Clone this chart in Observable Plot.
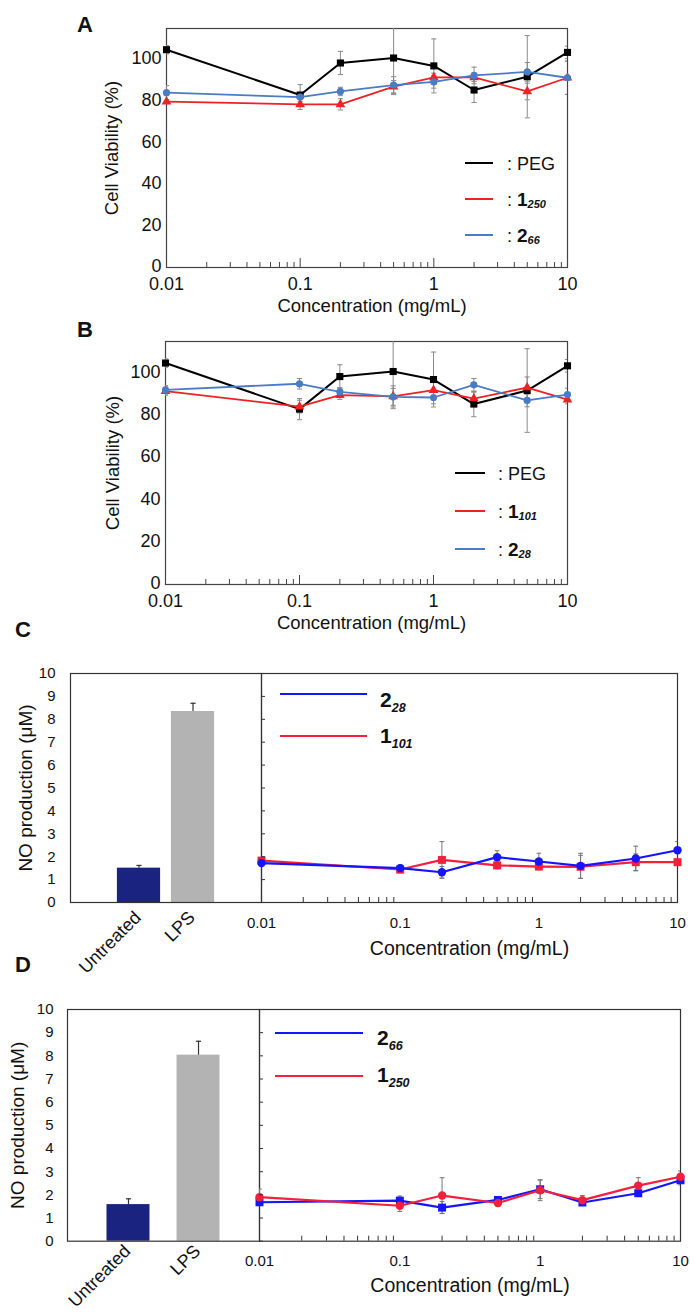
<!DOCTYPE html>
<html>
<head>
<meta charset="utf-8">
<script src="https://cdn.jsdelivr.net/npm/d3@7"></script>
<script src="https://cdn.jsdelivr.net/npm/@observablehq/plot@0.6"></script>
<style>
  html, body { margin: 0; padding: 0; background: #fff; }
  #root { position: relative; width: 690px; height: 1313px; overflow: hidden; background: #fff;
          font-family: Arial, "Liberation Sans", Helvetica, sans-serif; color: #111; }
  .abs { position: absolute; white-space: nowrap; }
</style>
</head>
<body>
<div id="root"></div>
<script>
// ---------------- DATA ----------------
const conc = [0.01, 0.1, 0.2, 0.5, 1, 2, 5, 10];
const xMajor = [0.01, 0.1, 1, 10];
const xMajorLabels = ["0.01", "0.1", "1", "10"];
const xMinor = [0.02, 0.03, 0.04, 0.05, 0.06, 0.07, 0.08, 0.09,
                0.2, 0.3, 0.4, 0.5, 0.6, 0.7, 0.8, 0.9,
                2, 3, 4, 5, 6, 7, 8, 9];
const viabTicks = [0, 20, 40, 60, 80, 100];
const noTicks = [0, 1, 2, 3, 4, 5, 6, 7, 8, 9, 10];
const xTitle = "Concentration (mg/mL)";
const viabTitle = "Cell Viability (%)";
const noTitle = "NO production (\u03BCM)";
const panelLetters = ["A", "B", "C", "D"];

// Panel A / B : cell viability (%)
const pegViab      = [104.8, 83.0, 98.4, 100.8, 97.0, 85.4, 91.8, 103.5];
const pegViabErr   = [2, 5, 5.6, 17.6, 13, 6, 19.8, 3];
const v1_250       = [79.8, 78.5, 78.5, 87.0, 91.5, 91.5, 84.7, 91.3];
const v1_250Err    = [1, 2.5, 2.7, 3, 2, 2, 4, 8];
const v2_66        = [84.1, 82.0, 84.7, 87.8, 89.3, 92.4, 94.1, 91.3];
const v2_66Err     = [3.4, 2, 2, 4, 3, 4, 4.5, 8];
const v1_101       = [91.5, 84.2, 89.6, 89.0, 92.0, 88.0, 93.2, 87.5];
const v1_101Err    = [2, 3, 2, 5, 4, 3, 5, 2];
const v2_28        = [92.1, 95.0, 91.2, 88.8, 88.5, 94.5, 87.1, 89.9];
const v2_28Err     = [2, 2.5, 2, 4, 3, 3, 3, 3];

// Panel C / D : NO production (uM)
const ctrlCats   = ["Untreated", "LPS"];
const ctrlC      = [1.50, 8.34];
const ctrlCErr   = [0.12, 0.36];
const ctrlD      = [1.58, 8.03];
const ctrlDErr   = [0.25, 0.60];
const no2_28     = [1.72, 1.50, 1.32, 1.98, 1.79, 1.60, 1.92, 2.28];
const no2_28Err  = [0.05, 0.15, 0.25, 0.28, 0.36, 0.55, 0.54, 0.38];
const no1_101    = [1.83, 1.44, 1.86, 1.62, 1.57, 1.56, 1.76, 1.76];
const no1_101Err = [0.10, 0.15, 0.80, 0.15, 0.10, 0.50, 0.36, 0.10];
const no2_66     = [1.68, 1.75, 1.45, 1.78, 2.24, 1.67, 2.07, 2.63];
const no2_66Err  = [0.10, 0.20, 0.26, 0.10, 0.40, 0.10, 0.10, 0.20];
const no1_250    = [1.90, 1.53, 1.97, 1.65, 2.20, 1.77, 2.40, 2.78];
const no1_250Err = [0.35, 0.25, 0.77, 0.15, 0.45, 0.20, 0.34, 0.25];

// legend labels: [main, subscript]
const legendAB_A = [["PEG", ""], ["1", "250"], ["2", "66"]];
const legendAB_B = [["PEG", ""], ["1", "101"], ["2", "28"]];
const legendC = [["2", "28"], ["1", "101"]];
const legendD = [["2", "66"], ["1", "250"]];

// ---------------- STYLE / LAYOUT ----------------
const FONT = "Arial, 'Liberation Sans', Helvetica, sans-serif";
const plotStyle = {background: "transparent", overflow: "visible", fontFamily: FONT, color: "#111"};
const BLACK = "#000000", REDv = "#ee2222", BLUEv = "#4a7cc6";
const BLUEn = "#1515ff", REDn = "#f41f3a";
const barColors = ["#1b2380", "#b3b3b3"];
const root = document.getElementById("root");
const cap = {draw(ctx, size) { const w = Math.sqrt(size / Math.PI); ctx.moveTo(-w, 0); ctx.lineTo(w, 0); }};
const fmtX = d => xMajorLabels[xMajor.indexOf(d)];

function mount(svg, top) {
  svg.style.position = "absolute";
  svg.style.left = "0px";
  svg.style.top = top + "px";
  root.appendChild(svg);
}
function addDiv(html, left, top, css) {
  const d = document.createElement("div");
  d.className = "abs";
  d.style.left = left + "px";
  d.style.top = top + "px";
  Object.assign(d.style, css || {});
  d.innerHTML = html;
  root.appendChild(d);
  return d;
}
function lineSwatch(x1, x2, y, color, w) {
  addDiv("", x1, y - w / 2, {width: (x2 - x1) + "px", height: w + "px", background: color});
}
function rows(vals, errs) { return conc.map((c, i) => ({c, v: vals[i], e: errs[i]})); }

function errMarks(d, color, r) {
  return [
    Plot.ruleX(d, {x: "c", y1: v => v.v - v.e, y2: v => v.v + v.e, stroke: color, strokeWidth: 1, clip: true}),
    Plot.dot(d, {x: "c", y: v => v.v + v.e, symbol: cap, r, stroke: color, strokeWidth: 1, fill: "none", clip: true}),
    Plot.dot(d, {x: "c", y: v => v.v - v.e, symbol: cap, r, stroke: color, strokeWidth: 1, fill: "none", clip: true})
  ];
}
function yTitleMark(t, dx, fs) {
  return Plot.text([t], {frameAnchor: "left", textAnchor: "middle", lineAnchor: "middle", rotate: -90, dx, fontSize: fs});
}
function xTitleMark(t, dy, dx, fs) {
  return Plot.text([t], {frameAnchor: "bottom", textAnchor: "middle", lineAnchor: "middle", dy, dx, fontSize: fs});
}

// ---------------- PANELS A & B ----------------
function viability(top, H, mt, mb, ml, mr, series, ylDx) {
  const marks = [Plot.frame({stroke: "#444", strokeWidth: 1.2})];
  series.forEach(s => marks.push(...errMarks(rows(s.v, s.e), "#8a8a8a", 2.6)));
  series.forEach(s => {
    const d = rows(s.v, s.e);
    marks.push(
      Plot.line(d, {x: "c", y: "v", stroke: s.color, strokeWidth: s.w}),
      Plot.dot(d, {x: "c", y: "v", symbol: s.symbol, r: s.r, fill: s.color, stroke: "none"})
    );
  });
  marks.push(
    Plot.axisY(viabTicks, {tickSize: 0, tickPadding: 5, fontSize: 18, dy: -1, label: null}),
    Plot.axisX(xMajor, {tickSize: 0, tickPadding: 10, fontSize: 18, tickFormat: fmtX, label: null}),
    Plot.axisX(xMajor, {tickSize: -9, fill: "none", stroke: "#444", label: null}),
    Plot.axisX(xMinor, {tickSize: -5, fill: "none", stroke: "#444", label: null}),
    xTitleMark(xTitle, 39, 5, 18.5),
    yTitleMark(viabTitle, ylDx, 18.5)
  );
  const svg = Plot.plot({
    width: 690, height: H, marginTop: mt, marginBottom: mb, marginLeft: ml, marginRight: mr,
    style: plotStyle,
    x: {type: "log", domain: [0.01, 10]},
    y: {domain: [0, 115]},
    marks
  });
  mount(svg, top);
}

viability(0, 320, 28, 53, 166, 123, [
  {v: pegViab, e: pegViabErr, color: BLACK, w: 2, symbol: "square", r: 4},
  {v: v1_250, e: v1_250Err, color: REDv, w: 1.8, symbol: "triangle", r: 3.6},
  {v: v2_66, e: v2_66Err, color: BLUEv, w: 1.8, symbol: "circle", r: 3.6}
], -54);
viability(310, 330, 31, 56, 165, 123, [
  {v: pegViab, e: pegViabErr, color: BLACK, w: 2, symbol: "square", r: 4},
  {v: v1_101, e: v1_101Err, color: REDv, w: 1.8, symbol: "triangle", r: 3.6},
  {v: v2_28, e: v2_28Err, color: BLUEv, w: 1.8, symbol: "circle", r: 3.6}
], -52);

// legends A / B
function legendAB(entries, colors, x1, x2, ys, tx) {
  entries.forEach(([main, sub], i) => {
    lineSwatch(x1, x2, ys[i], colors[i], 1.6);
    const html = sub
      ? `: <b style="font-size:19px">${main}</b><b><i style="font-size:11px;position:relative;top:2px">${sub}</i></b>`
      : `: ${main}`;
    addDiv(html, tx, ys[i] - 9.2, {fontSize: "18px", lineHeight: "20px"});
  });
}
legendAB(legendAB_A, [BLACK, REDv, BLUEv], 465, 493, [163, 199, 235], 507);
legendAB(legendAB_B, [BLACK, REDv, BLUEv], 455, 485, [473, 511, 549], 498);

// ---------------- PANELS C & D ----------------
function noPanel(top, H, mt, mb, ml, divX, mr, ctrl, ctrlErr, band, ylDx, ytp, xtp, xtDy, catDy, series) {
  const bars = ctrlCats.map((cat, i) => ({cat, v: ctrl[i], e: ctrlErr[i]}));
  const left = Plot.plot({
    width: 690, height: H, marginTop: mt, marginBottom: mb, marginLeft: ml, marginRight: 690 - divX,
    style: plotStyle,
    x: {type: "band", domain: ctrlCats, paddingInner: band.pi, paddingOuter: band.po, round: false, axis: null},
    y: {domain: [0, 10]},
    color: {domain: ctrlCats, range: barColors},
    marks: [
      Plot.barY(bars, {x: "cat", y: "v", fill: "cat"}),
      Plot.ruleX(bars, {x: "cat", y1: "v", y2: d => d.v + d.e, stroke: "#333", strokeWidth: 1.2}),
      Plot.dot(bars, {x: "cat", y: d => d.v + d.e, symbol: cap, r: 2.6, stroke: "#333", strokeWidth: 1.2, fill: "none"}),
      Plot.frame({stroke: "#333", strokeWidth: 1.2}),
      Plot.axisY(noTicks, {tickSize: 0, tickPadding: ytp, fontSize: 15, label: null}),
      Plot.text(ctrlCats, {x: d => d, frameAnchor: "bottom", rotate: -45, textAnchor: "end", lineAnchor: "middle",
                           dx: -1, dy: catDy, fontSize: 18}),
      yTitleMark(noTitle, ylDx, 19)
    ]
  });
  mount(left, top);

  const marks = [Plot.frame({stroke: "#333", strokeWidth: 1.2})];
  series.forEach(s => marks.push(...errMarks(rows(s.v, s.e), "#777", 2.4)));
  series.forEach(s => {
    const d = rows(s.v, s.e);
    marks.push(
      Plot.line(d, {x: "c", y: "v", stroke: s.color, strokeWidth: 2.2}),
      Plot.dot(d, {x: "c", y: "v", symbol: s.symbol, r: s.r, fill: s.color, stroke: "none"})
    );
  });
  marks.push(
    Plot.axisY(noTicks, {tickSize: -4, fill: "none", stroke: "#333", label: null}),
    Plot.axisX(xMajor, {tickSize: 0, tickPadding: xtp, fontSize: 15, tickFormat: fmtX, label: null}),
    Plot.axisX(xMinor, {tickSize: -5, fill: "none", stroke: "#333", label: null}),
    xTitleMark(xTitle, xtDy, 0, 19.5)
  );
  const right = Plot.plot({
    width: 690, height: H, marginTop: mt, marginBottom: mb, marginLeft: divX, marginRight: mr,
    style: plotStyle,
    x: {type: "log", domain: [0.01, 10]},
    y: {domain: [0, 10]},
    marks
  });
  mount(right, top);
}

noPanel(640, 340, 33, 78, 70, 261, 13, ctrlC, ctrlCErr, {pi: 0.2, po: 0.868}, -45, 15, 14.5, 46, 12, [
  {v: no1_101, e: no1_101Err, color: REDn, symbol: "square", r: 4.5},
  {v: no2_28, e: no2_28Err, color: BLUEn, symbol: "circle", r: 4.2}
]);
noPanel(980, 333, 29, 72.3, 67, 259, 10, ctrlD, ctrlDErr, {pi: 0.386, po: 0.564}, -50, 14, 14, 45, 7, [
  {v: no2_66, e: no2_66Err, color: BLUEn, symbol: "square", r: 4.5},
  {v: no1_250, e: no1_250Err, color: REDn, symbol: "circle", r: 4.2}
]);

// legends C / D
function legendNO(entries, colors, x1, x2, ys, tx, cys) {
  entries.forEach(([main, sub], i) => {
    lineSwatch(x1, x2, ys[i], colors[i], 2);
    const html = `<b>${main}</b><b><i style="font-size:12.5px;position:relative;top:5px">${sub}</i></b>`;
    addDiv(html, tx, cys[i] - 11.7, {fontSize: "21px", lineHeight: "24px"});
  });
}
legendNO(legendC, [BLUEn, REDn], 280, 367, [694, 736], 380, [699.5, 735.5]);
legendNO(legendD, [BLUEn, REDn], 275, 363, [1033, 1076], 377, [1037.5, 1075]);

// panel letters
const letterPos = [[77, 33], [77, 338], [15, 638], [15, 973]];
panelLetters.forEach((L, i) => {
  addDiv(L, letterPos[i][0], letterPos[i][1] - 18.6, {fontSize: "22px", lineHeight: "22px", fontWeight: "bold"});
});
</script>
</body>
</html>
